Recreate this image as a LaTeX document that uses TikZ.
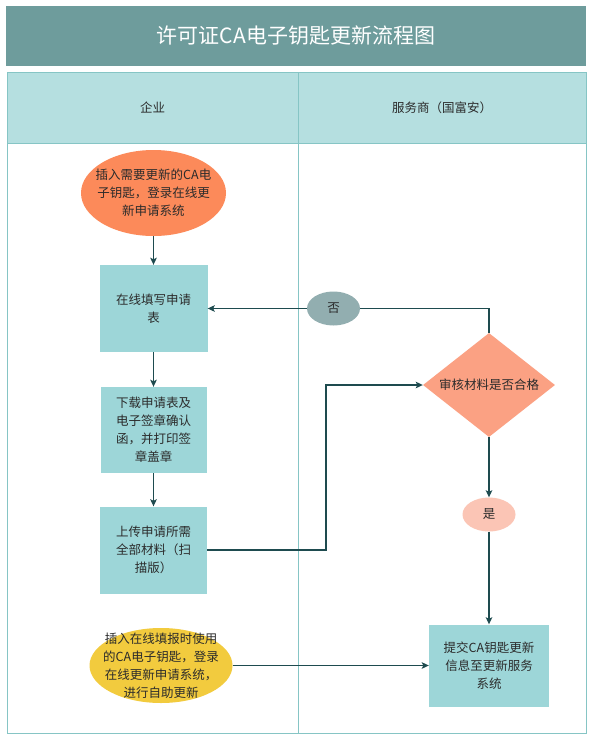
\documentclass[tikz,border=0pt]{standalone}
\usepackage{fontspec}
\setmainfont{Noto Sans CJK SC}
\usetikzlibrary{shapes.geometric,arrows.meta}
\definecolor{titlebg}{HTML}{6E9C9C}
\definecolor{hdrbg}{HTML}{B5DFE0}
\definecolor{laneline}{HTML}{86C5C5}
\definecolor{boxbg}{HTML}{9DD6D8}
\definecolor{orangebg}{HTML}{FC8A5A}
\definecolor{yellowbg}{HTML}{F2CB3E}
\definecolor{diabg}{HTML}{FBA183}
\definecolor{nobg}{HTML}{92AEB0}
\definecolor{yesbg}{HTML}{FBC5B5}
\definecolor{conn}{HTML}{1E4B4F}
\definecolor{txtc}{HTML}{2B2B2B}
\begin{document}
\begin{tikzpicture}[x=1pt,y=-1pt,
  txt/.style={text=txtc,font=\fontsize{12.5}{18}\selectfont,align=center},
  titlebox/.style={rectangle,fill=titlebg,text=white,font=\fontsize{21}{24}\selectfont,minimum width=580pt,minimum height=60pt,inner sep=0pt},
  hdrbox/.style={rectangle,fill=hdrbg,draw=laneline,line width=1pt,minimum height=71pt,inner sep=0pt,txt},
  lanebox/.style={rectangle,fill=white,draw=laneline,line width=1pt,minimum height=590pt,inner sep=0pt},
  procbox/.style={rectangle,fill=boxbg,inner sep=0pt,txt},
  ellbox/.style={ellipse,inner sep=0pt},
  diabox/.style={diamond,fill=diabg,inner sep=0pt,minimum width=132pt,minimum height=104pt,aspect=1.27,txt},
  line/.style={draw=conn,line width=1.2pt},
  arr/.style={line,-{Stealth[length=7pt,width=6.5pt,inset=1.5pt]}}
]
\useasboundingbox (0,0) rectangle (594,740);
\fill[white] (0,0) rectangle (594,740);
\node[titlebox] (title) at (296,36) {许可证CA电子钥匙更新流程图};
\node[lanebox,minimum width=291pt] (lane1) at (152.5,438) {};
\node[lanebox,minimum width=288pt] (lane2) at (442,438) {};
\node[hdrbox,minimum width=291pt] (hdr1) at (152.5,107.5) {企业};
\node[hdrbox,minimum width=288pt] (hdr2) at (442,107.5) {服务商（国富安）};

\node[ellbox,fill=orangebg,minimum width=145pt,minimum height=86pt,
  label={[txt]center:{插入需要更新的CA电\\子钥匙，登录在线更\\新申请系统}}] (e1) at (153.5,193) {};
\node[procbox,minimum width=108pt,minimum height=87pt] (b1) at (153.5,308.5) {在线填写申请\\表};
\node[procbox,minimum width=106pt,minimum height=86pt] (b2) at (153.5,430) {下载申请表及\\电子签章确认\\函，并打印签\\章盖章};
\node[procbox,minimum width=107pt,minimum height=87pt] (b3) at (153.5,550) {上传申请所需\\全部材料（扫\\描版）};
\node[ellbox,fill=yellowbg,minimum width=143pt,minimum height=75pt,
  label={[txt]center:{插入在线填报时使用\\的CA电子钥匙，登录\\在线更新申请系统，\\进行自助更新}}] (yel) at (161,665.5) {};

\node[ellbox,fill=nobg,minimum width=53pt,minimum height=34pt,txt] (no) at (333.5,308.5) {否};
\node[diabox] (dia) at (489,385) {审核材料是否合格};
\node[ellbox,fill=yesbg,minimum width=53pt,minimum height=34pt,txt] (yes) at (489,514.5) {是};
\node[procbox,minimum width=120pt,minimum height=82pt] (b4) at (489,665.5) {提交CA钥匙更新\\信息至更新服务\\系统};

\coordinate (j1) at (326,550);
\draw[arr] (e1) -- (b1);
\draw[arr] (b1) -- (b2);
\draw[arr] (b2) -- (b3);
\draw[arr] (b3.east) -- (j1) |- (dia.west);
\draw[line] (dia.north) |- (no.east);
\draw[arr] (no.west) -- (b1.east);
\draw[arr] (dia.south) -- (yes.north);
\draw[arr] (yes.south) -- (b4.north);
\draw[arr] (yel.east) -- (b4.west);
\end{tikzpicture}
\end{document}
